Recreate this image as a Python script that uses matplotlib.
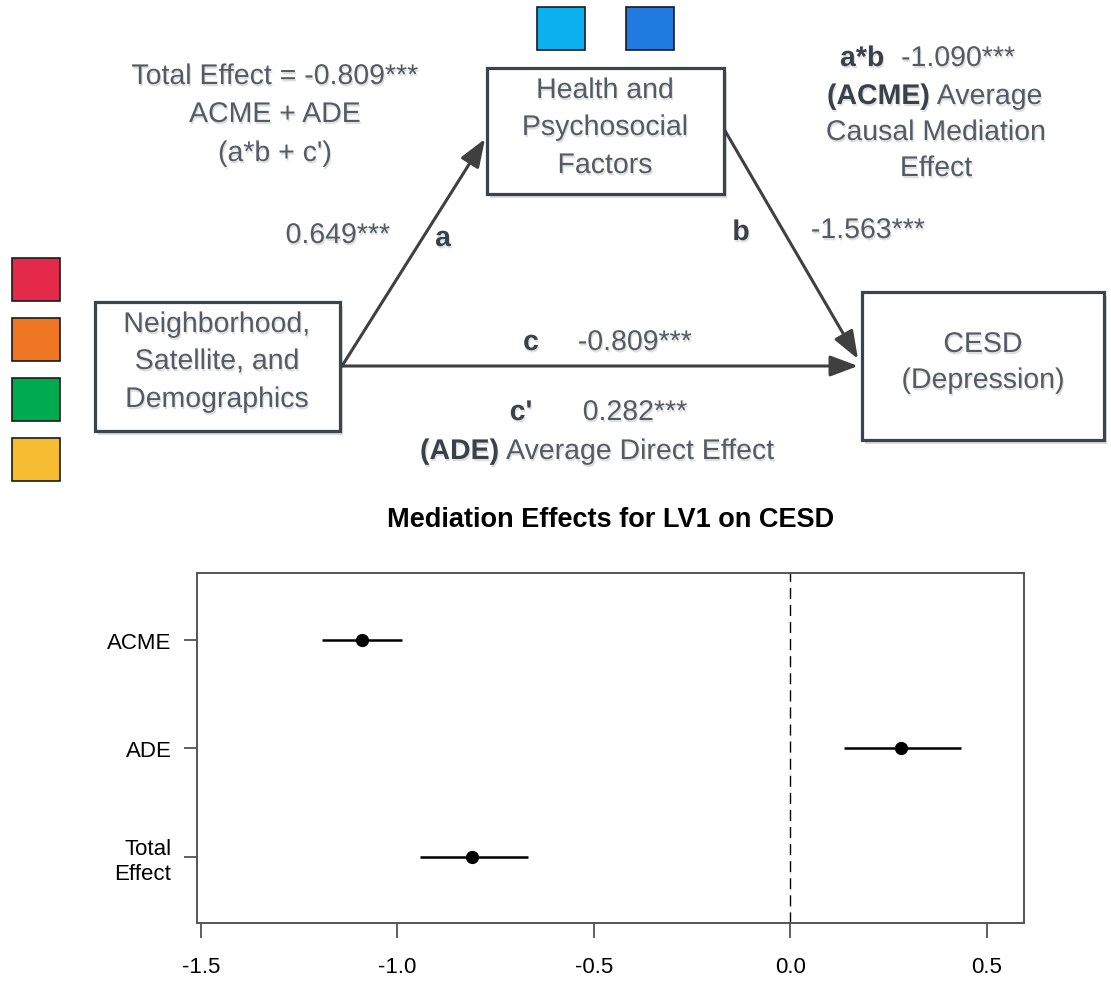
import matplotlib
matplotlib.use("Agg")
import matplotlib.pyplot as plt
from matplotlib.patches import Rectangle, FancyArrowPatch
import matplotlib.patheffects as pe

# === forest plot data ===
effects = ["ACME", "ADE", "Total\nEffect"]
estimates = [-1.090, 0.282, -0.809]
ci_low = [-1.191, 0.137, -0.943]
ci_high = [-0.987, 0.434, -0.666]
ypos = [3, 2, 1]
xticks = [-1.5, -1.0, -0.5, 0.0, 0.5]

# === path coefficients for the diagram ===
coef_a = "0.649***"
coef_b = "-1.563***"
coef_c = "-0.809***"
coef_cp = "0.282***"
coef_ab = "-1.090***"
total_effect = "-0.809***"

W, H = 1111, 987
FONT = "Liberation Sans"
TXT = "#535b64"
DARK = "#39424b"
EDGE = "#3a444f"

fig = plt.figure(figsize=(W / 100, H / 100), dpi=100)

# diagram layer in pixel coordinates
dg = fig.add_axes([0, 0, 1, 1])
dg.set_xlim(0, W)
dg.set_ylim(H, 0)
dg.axis("off")

txt_shadow = [pe.withSimplePatchShadow(offset=(0.8, -1.6), shadow_rgbFace="k", alpha=0.13)]
box_shadow = [pe.withSimplePatchShadow(offset=(2.5, -3), shadow_rgbFace="k", alpha=0.14)]


def label(x, y, s, bold=False, ha="center", size=20.5):
    return dg.text(x, y, s, ha=ha, va="center", fontsize=size, family=FONT,
                   fontweight="bold" if bold else "normal",
                   color=DARK if bold else TXT, path_effects=txt_shadow)


def after(prev, s, gap=6, bold=False, size=20.5):
    # put text right after another text item
    return dg.annotate(s, xy=(1, 0.5), xycoords=prev, xytext=(gap, 0),
                       textcoords="offset points", ha="left", va="center",
                       fontsize=size, family=FONT,
                       fontweight="bold" if bold else "normal",
                       color=DARK if bold else TXT, path_effects=txt_shadow)


def box(x0, y0, x1, y1):
    dg.add_patch(Rectangle((x0, y0), x1 - x0, y1 - y0, fc="white", ec=EDGE,
                           lw=2.3, zorder=3, path_effects=box_shadow))


def square(x0, y0, color):
    dg.add_patch(Rectangle((x0, y0), 48, 43, fc=color, ec="#1a1a1a", lw=1.2, zorder=3))


def arrow(p0, p1):
    dg.add_patch(FancyArrowPatch(p0, p1, arrowstyle="-|>,head_length=0.85,head_width=0.32",
                                 mutation_scale=20, lw=2.2, color="#404040",
                                 shrinkA=0, shrinkB=0, zorder=2))


# colored squares
square(537, 8, "#0db0ee")
square(626, 8, "#1f7be0")
for yy, col in zip([259, 319, 379, 439], ["#e4294b", "#ef7723", "#00ab4f", "#f6bd30"]):
    square(12, yy, col)

# boxes
box(487, 69, 724, 195)
box(95, 303, 340, 432)
box(862, 293, 1104, 441)

# arrows
arrow((342, 367), (485, 140))
arrow((724, 130), (858, 360))
arrow((342, 367), (858, 367))

# box texts
for yy, s in zip([92, 129, 167], ["Health and", "Psychosocial", "Factors"]):
    label(605, yy, s)
for yy, s in zip([326, 363, 401], ["Neighborhood,", "Satellite, and", "Demographics"]):
    label(217, yy, s)
label(983, 346, "CESD")
label(983, 382, "(Depression)")

# total effect text
label(275, 78, "Total Effect = " + total_effect)
label(275, 116, "ACME + ADE")
label(275, 155, "(a*b + c')")

# path labels
label(338, 237, coef_a)
label(443, 240, "a", bold=True)
label(741, 234, "b", bold=True)
label(868, 232, coef_b)
t = label(840, 60, "a*b", bold=True, ha="left")
after(t, coef_ab, gap=12)
t = label(827, 98, "(ACME)", bold=True, ha="left")
after(t, "Average", gap=5)
label(936, 134, "Causal Mediation")
label(936, 170, "Effect")
label(531, 344, "c", bold=True)
label(635, 344, coef_c)
label(521, 414, "c'", bold=True)
label(635, 414, coef_cp)
t = label(420, 453, "(ADE)", bold=True, ha="left")
after(t, "Average Direct Effect", gap=5)

# === forest plot ===
ax = fig.add_axes([197.3 / W, 1 - 924.3 / H, (1024.3 - 197.3) / W, (924.3 - 574) / H])
ax.hlines(ypos, ci_low, ci_high, color="k", lw=1.8)
ax.plot(estimates, ypos, "o", color="k", ms=8.5)
ax.axvline(0, color="k", lw=1, ls=(0, (8, 4.3)))
ax.set_xlim(-1.5087, 0.5957)
ax.set_ylim(0.385, 3.619)
ax.set_xticks(xticks)
ax.set_xticklabels([f"{v:.1f}" for v in xticks], family=FONT)
ax.set_yticks(ypos)
ax.set_yticklabels(effects, family=FONT, linespacing=1.25)
ax.tick_params(axis="x", direction="out", length=10.5, width=1.2, labelsize=16, pad=13, color="#444444")
ax.tick_params(axis="y", direction="out", length=9.6, width=1.2, labelsize=16, pad=9, color="#444444")
for sp in ax.spines.values():
    sp.set_color("#555555")
    sp.set_linewidth(1.4)

fig.text(610.8 / W, 1 - 520 / H, "Mediation Effects for LV1 on CESD", ha="center", va="center",
         fontsize=19.5, fontweight="bold", family=FONT)

fig.savefig("out.png", dpi=100)
